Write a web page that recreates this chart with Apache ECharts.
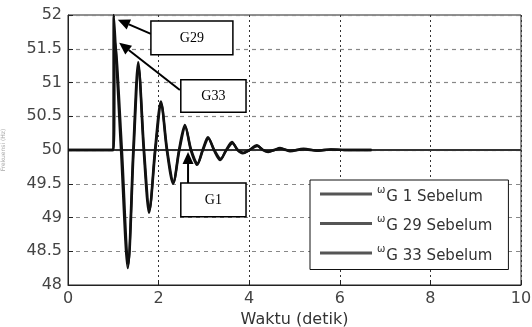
<!DOCTYPE html>
<html>
<head>
<meta charset="utf-8">
<script src="https://cdn.jsdelivr.net/npm/echarts@6/dist/echarts.min.js"></script>
<style>
  html, body { margin: 0; padding: 0; background: #fff; }
  #chart { width: 532px; height: 327px; }
</style>
</head>
<body>
<div id="chart"></div>
<script>
// data
var seriesNames = ['G 1 Sebelum', 'G 29 Sebelum', 'G 33 Sebelum'];
var xTicks = [0, 2, 4, 6, 8, 10];
var yTicks = [48, 48.5, 49, 49.5, 50, 50.5, 51, 51.5, 52];

// G1 stays flat
var timeG1 = [0, 1, 2, 3, 4, 6, 8, 10];
var freqG1 = [50, 50, 50, 50, 50, 50, 50, 50];

// G29
var timeG29 = [0, 1.0, 1.01, 1.17, 1.32, 1.44, 1.55, 1.67, 1.79, 1.92, 2.05, 2.18, 2.32, 2.45, 2.58, 2.71, 2.85, 2.97, 3.09, 3.22, 3.36, 3.49, 3.62, 3.74, 3.86, 4.0, 4.17, 4.3, 4.42, 4.55, 4.68, 4.9, 5.2, 5.5, 5.8, 6.1, 6.4, 6.7];
var freqG29 = [50, 50, 52, 50, 48.25, 50, 51.3, 50, 49.07, 50, 50.72, 50, 49.5, 50, 50.37, 50, 49.78, 50, 50.19, 50, 49.85, 50, 50.12, 50, 49.95, 50, 50.07, 50, 49.97, 50, 50.03, 49.98, 50.02, 49.99, 50.01, 50, 50, 50];

// G33
var timeG33 = [0, 1.0, 1.04, 1.19, 1.33, 1.45, 1.56, 1.68, 1.8, 1.93, 2.06, 2.19, 2.33, 2.46, 2.59, 2.72, 2.86, 2.98, 3.1, 3.23, 3.37, 3.5, 3.63, 3.75, 3.87, 4.01, 4.18, 4.31, 4.43, 4.56, 4.69, 4.91, 5.21, 5.51, 5.81, 6.11, 6.41, 6.7];
var freqG33 = [50, 50, 51.6, 50, 48.3, 50, 51.22, 50, 49.12, 50, 50.68, 50, 49.53, 50, 50.34, 50, 49.8, 50, 50.17, 50, 49.87, 50, 50.1, 50, 49.96, 50, 50.06, 50, 49.98, 50, 50.02, 49.99, 50.01, 49.99, 50.01, 50, 50, 50];

// annotation boxes: [label, box x0, box x1, box y0, box y1, tail x, tail y, tip x, tip y] in data units
var notes = [
  ['G29', 1.83, 3.64, 51.91, 51.41, 1.83, 51.72, 1.10, 51.93],
  ['G33', 2.49, 3.93, 51.04, 50.56, 2.47, 50.89, 1.13, 51.59],
  ['G1', 2.49, 3.93, 49.51, 49.01, 2.65, 49.51, 2.65, 49.97]
];

function pairs(t, v) {
  return t.map(function (x, i) { return [x, v[i]]; });
}

var chart = echarts.init(document.getElementById('chart'));
var font = 'DejaVu Sans';

var option = {
  animation: false,
  grid: {
    left: 68, right: 11, top: 15, bottom: 42,
    outerBoundsMode: 'none',
    containLabel: false,
    show: true, borderColor: '#222', borderWidth: 1
  },
  legend: {
    orient: 'vertical',
    left: 310, top: 180,
    backgroundColor: '#fff',
    borderColor: '#111', borderWidth: 1,
    padding: [5, 16, 6, 10],
    icon: 'rect',
    itemWidth: 52, itemHeight: 3, itemGap: 10,
    itemStyle: { color: '#555' },
    data: seriesNames,
    formatter: function (name) {
      return '{w|ω}{s|' + name + '}';
    },
    textStyle: {
      color: '#333',
      fontFamily: font,
      rich: {
        w: { fontSize: 10, fontFamily: font, color: '#333', padding: [0, 1, 8, 0] },
        s: { fontSize: 15, fontFamily: font, color: '#333', padding: [6, 0, 0, 0] }
      }
    }
  },
  xAxis: {
    type: 'value',
    min: xTicks[0], max: xTicks[xTicks.length - 1], interval: 2,
    name: 'Waktu (detik)', nameLocation: 'middle', nameGap: 24,
    nameTextStyle: { fontFamily: font, fontSize: 16, color: '#333' },
    axisLine: { lineStyle: { color: '#222' } },
    axisTick: { inside: true, length: 5, lineStyle: { color: '#222' } },
    axisLabel: { fontFamily: font, fontSize: 16, color: '#444', margin: 6 },
    splitLine: { show: true, lineStyle: { color: '#333', type: [2, 3], width: 1 } }
  },
  yAxis: {
    type: 'value',
    min: yTicks[0], max: yTicks[yTicks.length - 1], interval: 0.5,
    name: 'Frekuensi (Hz)', nameLocation: 'middle', nameGap: 62,
    nameTextStyle: { fontFamily: font, fontSize: 6, color: '#aaa' },
    axisLine: { lineStyle: { color: '#222' } },
    axisTick: { inside: true, length: 5, lineStyle: { color: '#222' } },
    axisLabel: { fontFamily: font, fontSize: 16, color: '#444', margin: 6 },
    splitLine: { show: true, lineStyle: { color: '#888', type: [4, 4], width: 1.2 } }
  },
  series: [
    {
      name: seriesNames[0], type: 'line', symbol: 'none', z: 3,
      lineStyle: { color: '#333', width: 2 },
      data: pairs(timeG1, freqG1)
    },
    {
      name: seriesNames[1], type: 'line', symbol: 'none', z: 4, smooth: 0.3,
      lineStyle: { color: '#111', width: 2.4 },
      data: pairs(timeG29, freqG29)
    },
    {
      name: seriesNames[2], type: 'line', symbol: 'none', z: 4, smooth: 0.3,
      lineStyle: { color: '#111', width: 2.4 },
      data: pairs(timeG33, freqG33)
    }
  ]
};
chart.setOption(option);

// annotation boxes and arrows placed from data coordinates
var graphics = [];
notes.forEach(function (n) {
  var p0 = chart.convertToPixel({ gridIndex: 0 }, [n[1], n[3]]);
  var p1 = chart.convertToPixel({ gridIndex: 0 }, [n[2], n[4]]);
  var tail = chart.convertToPixel({ gridIndex: 0 }, [n[5], n[6]]);
  var tip = chart.convertToPixel({ gridIndex: 0 }, [n[7], n[8]]);
  var dx = tip[0] - tail[0], dy = tip[1] - tail[1];
  var len = Math.sqrt(dx * dx + dy * dy);
  var ux = dx / len, uy = dy / len;
  var headLen = 12, headW = 5.5;
  var bx = tip[0] - ux * headLen, by = tip[1] - uy * headLen;
  graphics.push({
    type: 'line', z: 20,
    shape: { x1: tail[0], y1: tail[1], x2: bx, y2: by },
    style: { stroke: '#000', lineWidth: 2 }
  });
  graphics.push({
    type: 'polygon', z: 20,
    shape: { points: [tip, [bx - uy * headW, by + ux * headW], [bx + uy * headW, by - ux * headW]] },
    style: { fill: '#000' }
  });
  graphics.push({
    type: 'rect', z: 21,
    shape: { x: p0[0], y: p0[1], width: p1[0] - p0[0], height: p1[1] - p0[1] },
    style: { fill: '#fff', stroke: '#000', lineWidth: 1.5 }
  });
  graphics.push({
    type: 'text', z: 22,
    x: (p0[0] + p1[0]) / 2, y: (p0[1] + p1[1]) / 2,
    style: {
      text: n[0], fill: '#000', font: '14px "Liberation Serif"',
      align: 'center', verticalAlign: 'middle'
    }
  });
});
chart.setOption({ graphic: graphics });
</script>
</body>
</html>
